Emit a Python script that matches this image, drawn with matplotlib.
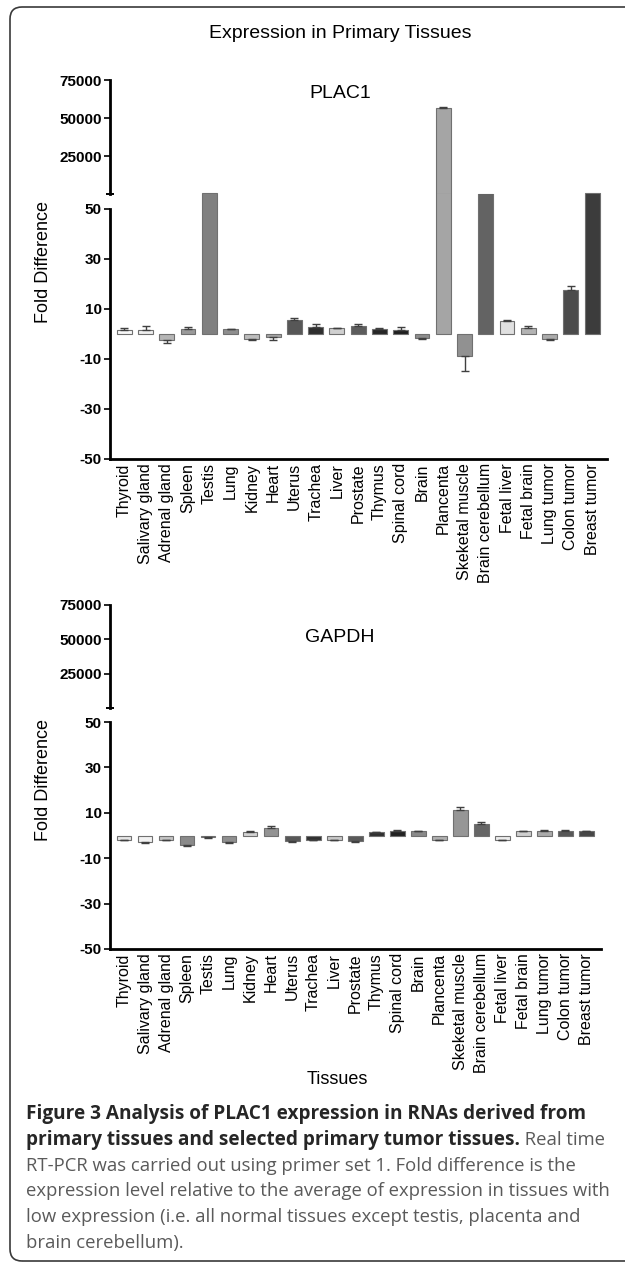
import matplotlib
matplotlib.use('Agg')
import matplotlib.pyplot as plt
from matplotlib.patches import FancyBboxPatch
import numpy as np

# ---------------- data ----------------
tissues = ["Thyroid", "Salivary gland", "Adrenal gland", "Spleen", "Testis", "Lung",
           "Kidney", "Heart", "Uterus", "Trachea", "Liver", "Prostate", "Thymus",
           "Spinal cord", "Brain", "Plancenta", "Skeketal muscle", "Brain cerebellum",
           "Fetal liver", "Fetal brain", "Lung tumor", "Colon tumor", "Breast tumor"]

plac1_mean = [1.8, 1.6, -2.3, 2.1, 420, 1.9, -2.1, -1.3, 5.5, 2.8, 2.4, 3.2, 2.1,
              1.6, -1.5, 56500, -8.7, 310, 5.1, 2.4, -1.9, 17.8, 520]
plac1_err = [0.5, 1.7, 1.3, 0.6, 0, 0.3, 0.3, 1.1, 0.9, 1.2, 0.2, 0.7, 0.3,
             1.3, 0.3, 900, 6.2, 0, 0.7, 0.7, 0.3, 1.6, 0]

gapdh_mean = [-1.8, -2.8, -1.9, -4.3, -0.7, -2.7, 1.6, 3.2, -2.5, -1.8, -1.9, -2.4, 1.5,
              2.1, 1.8, -1.8, 11.2, 5.2, -1.8, 1.9, 1.8, 1.8, 1.8]
gapdh_err = [0.3, 0.4, 0.3, 0.5, 0.6, 0.5, 0.2, 0.8, 0.3, 0.2, 0.2, 0.3, 0.2,
             0.3, 0.2, 0.2, 1.5, 0.8, 0.3, 0.2, 0.5, 0.5, 0.2]

lower_ticks = [-50, -30, -10, 10, 30, 50]
upper_ticks = [25000, 50000, 75000]

plac1_colors = ['#f8f8f8', '#efefef', '#b5b5b5', '#9a9a9a', '#808080', '#8e8e8e',
                '#bdbdbd', '#a5a5a5', '#575757', '#2e2e2e', '#d0d0d0', '#5c5c5c',
                '#262626', '#1f1f1f', '#8d8d8d', '#a5a5a5', '#919191', '#636363',
                '#e0e0e0', '#b3b3b3', '#ababab', '#4b4b4b', '#3c3c3c']
gapdh_colors = ['#e6e6e6', '#f2f2f2', '#c4c4c4', '#8a8a8a', '#d0d0d0', '#8f8f8f',
                '#d4d4d4', '#939393', '#575757', '#303030', '#c8c8c8', '#595959',
                '#303030', '#222222', '#8a8a8a', '#b0b0b0', '#969696', '#666666',
                '#ececec', '#cfcfcf', '#ababab', '#575757', '#464646']

# ---------------- figure ----------------
W, H = 625, 1263
plt.rcParams['font.family'] = ['Liberation Sans', 'DejaVu Sans']
fig = plt.figure(figsize=(W / 100, H / 100), dpi=100)


def fx(px):
    return px / W


def fy(py):
    return 1 - py / H


AX_LW = 2.0
BAR_KW = dict(width=0.7, edgecolor='#707070', linewidth=0.8, zorder=2)
ERR_KW = dict(fmt='none', ecolor='#404040', elinewidth=1.0, capsize=3,
              capthick=1.0, zorder=3)


def panel(left_px, right_px, up_top_px, up_bot_px, low_top_px, low_bot_px,
          means, errs, colors, name, name_y_px, ylab_y_px):
    x = np.arange(len(tissues))
    means = np.asarray(means, float)
    errs = np.asarray(errs, float)
    colors = np.asarray(colors)
    lo = np.where(means < 0, errs, 0)
    hi = np.where(means > 0, errs, 0)
    px_per_unit = (low_bot_px - low_top_px) / 100.0
    low_ymax = 50 + (low_top_px - up_bot_px) / px_per_unit

    axl = fig.add_axes([fx(left_px), fy(low_bot_px), fx(right_px) - fx(left_px),
                        fy(up_bot_px) - fy(low_bot_px)])
    axu = fig.add_axes([fx(left_px), fy(up_bot_px), fx(right_px) - fx(left_px),
                        fy(up_top_px) - fy(up_bot_px)])

    # lower segment: all bars
    axl.bar(x, means, color=colors, **BAR_KW)
    axl.errorbar(x, means, yerr=[lo, hi], **ERR_KW)

    # upper segment: only the bars that exceed the lower range
    big = means > 50
    if big.any():
        axu.bar(x[big], means[big], color=colors[big], **BAR_KW)
        eb = big & (errs > 0)
        if eb.any():
            axu.errorbar(x[eb], means[eb], yerr=[lo[eb], hi[eb]], **ERR_KW)

    for ax in (axl, axu):
        ax.set_facecolor('none')
        ax.set_xlim(-0.67, len(tissues) - 0.3)
        for s in ('top', 'right'):
            ax.spines[s].set_visible(False)
        for s in ('left', 'bottom'):
            ax.spines[s].set_linewidth(AX_LW)
        ax.tick_params(axis='y', which='major', direction='out', length=4,
                       width=1.2, labelsize=11, pad=2)
        ax.tick_params(axis='y', which='minor', direction='inout', length=6,
                       width=1.4)

    axl.set_ylim(-50, low_ymax)
    axl.spines['left'].set_bounds(-50, 50)
    axl.set_yticks(lower_ticks)
    axl.set_yticklabels([str(t) for t in lower_ticks], fontweight='bold')
    axl.set_yticks([50], minor=True)
    axl.set_xticks(x)
    axl.set_xticklabels(tissues, rotation=90, fontsize=11.5)
    axl.tick_params(axis='x', length=0, pad=3)

    axu.set_ylim(0, 75000)
    axu.spines['bottom'].set_visible(False)
    axu.spines['left'].set_bounds(0, 75000)
    axu.set_yticks(upper_ticks)
    axu.set_yticklabels([str(t) for t in upper_ticks], fontweight='bold')
    axu.set_yticks([0], minor=True)
    axu.set_xticks([])

    fig.text(fx(340), fy(name_y_px), name, ha='center', va='center', fontsize=14)
    fig.text(fx(44), fy(ylab_y_px), 'Fold Difference', rotation=90,
             ha='center', va='center', fontsize=13)


panel(110, 607, 80, 194, 209, 459, plac1_mean, plac1_err, plac1_colors,
      'PLAC1', 93, 262)
panel(110, 601, 605, 708, 722, 949, gapdh_mean, gapdh_err, gapdh_colors,
      'GAPDH', 637, 780)

fig.text(fx(340), fy(33), 'Expression in Primary Tissues', ha='center',
         va='center', fontsize=14)
fig.text(fx(337), fy(1080), 'Tissues', ha='center', va='center', fontsize=13)

# frame
frame = FancyBboxPatch((0.10, 0.02), 6.4, 12.54,
                       boxstyle='round,pad=0,rounding_size=0.12',
                       transform=fig.dpi_scale_trans, fill=False,
                       edgecolor='#3a3a3a', linewidth=1.2)
fig.add_artist(frame)

# caption
cap_font = ['Open Sans', 'DejaVu Sans']
bold_size = 13.7
reg_size = 13.3
dark = '#262626'
gray = '#5a5a5a'
cap_x = fx(26)
baselines = [1119, 1145, 1171, 1196, 1222, 1248]
fig.text(cap_x, fy(baselines[0]),
         'Figure 3 Analysis of PLAC1 expression in RNAs derived from',
         family=cap_font, fontsize=bold_size, fontweight='bold', color=dark,
         va='baseline', ha='left')
t2 = fig.text(cap_x, fy(baselines[1]),
              'primary tissues and selected primary tumor tissues.',
              family=cap_font, fontsize=bold_size, fontweight='bold', color=dark,
              va='baseline', ha='left')
fig.canvas.draw()
bb = t2.get_window_extent(renderer=fig.canvas.get_renderer())
fig.text(bb.x1 / fig.bbox.width, fy(baselines[1]), ' Real time',
         family=cap_font, fontsize=reg_size, color=gray, va='baseline', ha='left')
rest = ['RT-PCR was carried out using primer set 1. Fold difference is the',
        'expression level relative to the average of expression in tissues with',
        'low expression (i.e. all normal tissues except testis, placenta and',
        'brain cerebellum).']
for line, b in zip(rest, baselines[2:]):
    fig.text(cap_x, fy(b), line, family=cap_font, fontsize=reg_size,
             color=gray, va='baseline', ha='left')

fig.savefig('out.png', dpi=100)
